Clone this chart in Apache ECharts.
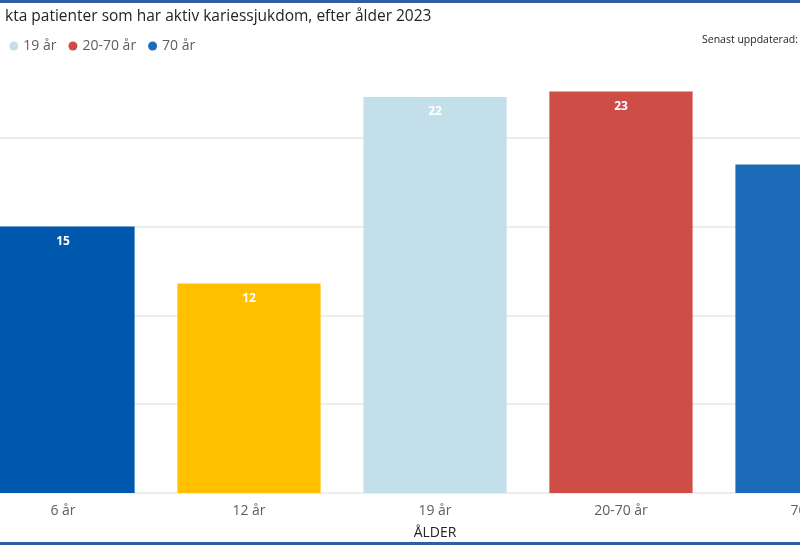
<!DOCTYPE html>
<html>
<head>
<meta charset="utf-8">
<script src="https://cdn.jsdelivr.net/npm/echarts@6/dist/echarts.min.js"></script>
<style>html,body{margin:0;padding:0;background:#fff;}#c{width:800px;height:547px;}</style>
</head>
<body>
<div id="c"></div>
<script>
const categories = ['6 år', '12 år', '19 år', '20-70 år', '70 år'];
const values = [15.0, 11.8, 22.3, 22.6, 18.5];
const colors = ['#0058AD', '#FFC000', '#C3DFEA', '#CF4D47', '#1C6BB8'];
const titleText = 'kta patienter som har aktiv kariessjukdom, efter ålder 2023';
const updatedText = 'Senast uppdaterad:';
const FONT = '"Segoe UI", "Open Sans", "Noto Sans", sans-serif';

const chart = echarts.init(document.getElementById('c'), null, {renderer: 'canvas'});
const series = categories.map((c, i) => ({
  name: c,
  type: 'bar',
  stack: 'all',
  barWidth: '77%',
  itemStyle: {color: colors[i]},
  data: categories.map((_, j) => j === i ? values[i] : null),
  label: {
    show: true, position: 'insideTop', distance: 9,
    color: '#fff', fontWeight: 'bold', fontSize: 12, fontFamily: FONT,
    formatter: p => Math.round(p.value)
  }
}));

chart.setOption({
  animation: false,
  textStyle: {fontFamily: FONT},
  title: {
    text: titleText, left: 0, top: 4,
    textStyle: {fontSize: 15.5, fontWeight: 'normal', color: '#252423', fontFamily: FONT}
  },
  legend: {
    data: categories, left: -106, top: 34, icon: 'circle',
    itemWidth: 9, itemHeight: 9, itemGap: 12,
    textStyle: {fontSize: 14, color: '#605E5C', fontFamily: FONT}
  },
  graphic: [
    {type: 'rect', left: 0, top: 0, shape: {width: 800, height: 3}, style: {fill: '#2F5FA0'}},
    {type: 'rect', left: 0, top: 542, shape: {width: 800, height: 3}, style: {fill: '#2F5FA0'}},
    {type: 'text', left: 702, top: 35, style: {text: updatedText, font: '10.5px ' + FONT, fill: '#252423'}}
  ],
  grid: {left: -30, width: 930, top: 49, bottom: 54, outerBoundsMode: 'none', containLabel: false},
  xAxis: {
    type: 'category', data: categories,
    axisLine: {show: false}, axisTick: {show: false},
    axisLabel: {fontSize: 14, color: '#605E5C', margin: 11, fontFamily: FONT},
    name: 'ÅLDER', nameLocation: 'middle', nameGap: 33,
    nameTextStyle: {fontSize: 14, color: '#252423', fontFamily: FONT}
  },
  yAxis: {
    type: 'value', min: 0, max: 25, interval: 5,
    axisLabel: {show: false}, axisLine: {show: false}, axisTick: {show: false},
    splitLine: {show: true, showMaxLine: false, lineStyle: {color: '#EDEDED', width: 2}}
  },
  series: series
});
</script>
</body>
</html>
